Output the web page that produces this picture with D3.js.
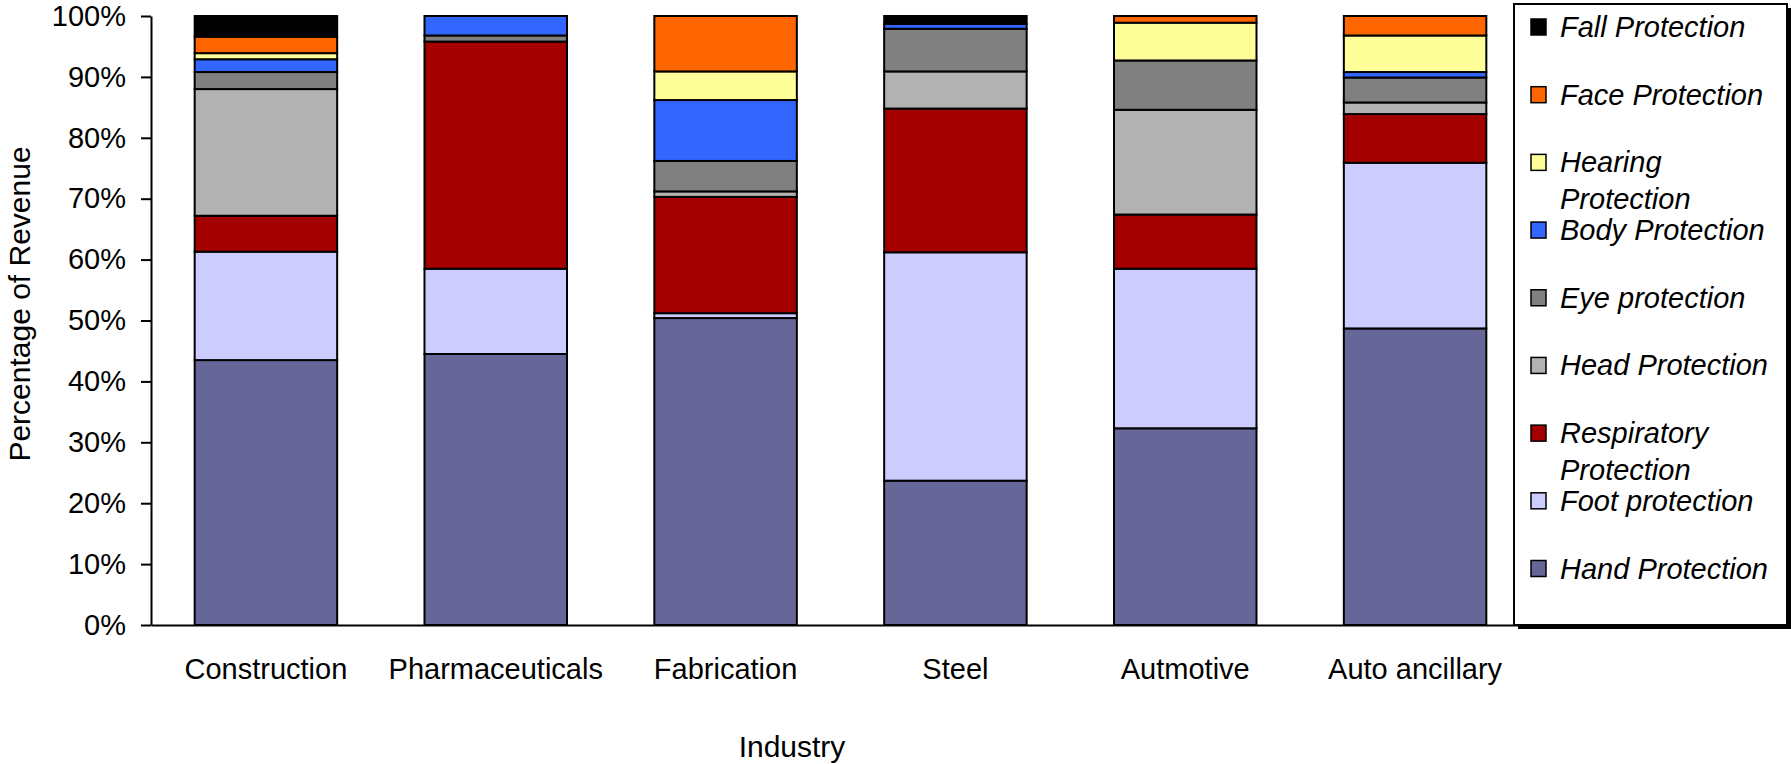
<!DOCTYPE html>
<html>
<head>
<meta charset="utf-8">
<script src="https://cdn.jsdelivr.net/npm/d3@7"></script>
<style>
  html, body { margin: 0; padding: 0; background: #ffffff; }
  svg { display: block; font-family: "Liberation Sans", Arial, sans-serif; }
</style>
</head>
<body>
<svg id="chart" width="1791" height="764"></svg>
<script>
// Industries along the x axis
const industries = ["Construction", "Pharmaceuticals", "Fabrication", "Steel", "Autmotive", "Auto ancillary"];

// Product segments, stacked bottom to top
const segments = ["Hand Protection", "Foot protection", "Respiratory Protection", "Head Protection",
                  "Eye protection", "Body Protection", "Hearing Protection", "Face Protection", "Fall Protection"];

// Share of revenue (%) per segment, one value per industry
const handProtection        = [43.5, 44.5, 50.4, 23.7, 32.3, 48.7];
const footProtection        = [17.8, 14.0,  0.8, 37.5, 26.2, 27.2];
const respiratoryProtection = [ 5.9, 37.3, 19.1, 23.6,  8.9,  8.0];
const headProtection        = [20.8,  0.0,  0.9,  6.1, 17.2,  1.9];
const eyeProtection         = [ 2.8,  1.0,  5.0,  7.0,  8.1,  4.1];
const bodyProtection        = [ 2.1,  3.2, 10.0,  0.8,  0.0,  0.9];
const hearingProtection     = [ 1.0,  0.0,  4.7,  0.0,  6.2,  6.0];
const faceProtection        = [ 2.7,  0.0,  9.1,  0.0,  1.1,  3.2];
const fallProtection        = [ 3.4,  0.0,  0.0,  1.3,  0.0,  0.0];

// Y axis tick values
const yTicks = [0, 10, 20, 30, 40, 50, 60, 70, 80, 90, 100];

const seriesValues = [handProtection, footProtection, respiratoryProtection, headProtection,
                      eyeProtection, bodyProtection, hearingProtection, faceProtection, fallProtection];

const colors = {
  "Hand Protection": "#666699",
  "Foot protection": "#ccccff",
  "Respiratory Protection": "#a50000",
  "Head Protection": "#b2b2b2",
  "Eye protection": "#808080",
  "Body Protection": "#3366ff",
  "Hearing Protection": "#ffff99",
  "Face Protection": "#ff6600",
  "Fall Protection": "#000000"
};

// Row table for d3.stack
const rows = industries.map((name, i) => {
  const r = { industry: name };
  segments.forEach((s, k) => { r[s] = seriesValues[k][i]; });
  return r;
});

const svg = d3.select("#chart");

const plot = { left: 151, right: 1530, top: 16, bottom: 625 };

const x = d3.scaleBand()
  .domain(industries)
  .range([plot.left, plot.right])
  .paddingInner(0.38)
  .paddingOuter(0.19);

const y = d3.scaleLinear()
  .domain([0, 100])
  .range([plot.bottom, plot.top]);

const stacked = d3.stack().keys(segments)(rows);

// Stacked bars
const layers = svg.append("g").attr("class", "bars")
  .selectAll("g")
  .data(stacked)
  .join("g")
  .attr("fill", d => colors[d.key]);

layers.selectAll("rect")
  .data(d => d.filter(p => p[1] - p[0] > 0))
  .join("rect")
  .attr("x", d => x(d.data.industry))
  .attr("width", x.bandwidth())
  .attr("y", d => y(d[1]))
  .attr("height", d => y(d[0]) - y(d[1]))
  .attr("stroke", "#000")
  .attr("stroke-width", 2);

// Y axis
const yAxis = svg.append("g")
  .attr("transform", `translate(${plot.left},0)`)
  .call(d3.axisLeft(y)
    .tickValues(yTicks)
    .tickFormat(d => d + "%")
    .tickSize(10)
    .tickSizeOuter(0)
    .tickPadding(15));
yAxis.select(".domain").attr("stroke", "#000").attr("stroke-width", 2);
yAxis.selectAll(".tick line").attr("stroke", "#000").attr("stroke-width", 2);
yAxis.selectAll(".tick text")
  .attr("fill", "#000")
  .style("font-size", "29px")
  .style("font-family", "'Liberation Sans', Arial, sans-serif");

// X axis
const xAxis = svg.append("g")
  .attr("transform", `translate(0,${plot.bottom})`)
  .call(d3.axisBottom(x)
    .tickSize(0)
    .tickSizeOuter(0)
    .tickPadding(33));
xAxis.select(".domain").attr("stroke", "#000").attr("stroke-width", 2);
xAxis.selectAll(".tick text")
  .attr("fill", "#000")
  .style("font-size", "29px")
  .style("font-family", "'Liberation Sans', Arial, sans-serif");

// Axis titles
svg.append("text")
  .attr("transform", "translate(30,304) rotate(-90)")
  .attr("text-anchor", "middle")
  .style("font-size", "30px")
  .attr("fill", "#000")
  .text("Percentage of Revenue");

svg.append("text")
  .attr("x", 792)
  .attr("y", 757)
  .attr("text-anchor", "middle")
  .style("font-size", "30px")
  .attr("fill", "#000")
  .text("Industry");

// Legend box with drop shadow
const legend = { x: 1514, y: 4, w: 273, h: 621 };
svg.append("rect")
  .attr("x", legend.x + 4).attr("y", legend.y + 4)
  .attr("width", legend.w).attr("height", legend.h)
  .attr("fill", "#000");
svg.append("rect")
  .attr("x", legend.x).attr("y", legend.y)
  .attr("width", legend.w).attr("height", legend.h)
  .attr("fill", "#fff")
  .attr("stroke", "#000")
  .attr("stroke-width", 2);

const legendOrder = segments.slice().reverse();
const legendLines = {
  "Hearing Protection": ["Hearing", "Protection"],
  "Respiratory Protection": ["Respiratory", "Protection"]
};
const rowY = d3.scalePoint().domain(legendOrder).range([27, 568.5]);

const items = svg.append("g").attr("class", "legend")
  .selectAll("g")
  .data(legendOrder)
  .join("g")
  .attr("transform", d => `translate(0,${rowY(d)})`);

items.append("rect")
  .attr("x", 1531)
  .attr("y", -8)
  .attr("width", 15)
  .attr("height", 16)
  .attr("fill", d => colors[d])
  .attr("stroke", "#000")
  .attr("stroke-width", 1.5);

items.append("text")
  .attr("x", 1560)
  .attr("y", 10)
  .style("font-size", "29px")
  .style("font-style", "italic")
  .attr("fill", "#000")
  .selectAll("tspan")
  .data(d => legendLines[d] || [d])
  .join("tspan")
  .attr("x", 1560)
  .attr("dy", (d, i) => i === 0 ? 0 : 36.7)
  .text(d => d);
</script>
</body>
</html>
